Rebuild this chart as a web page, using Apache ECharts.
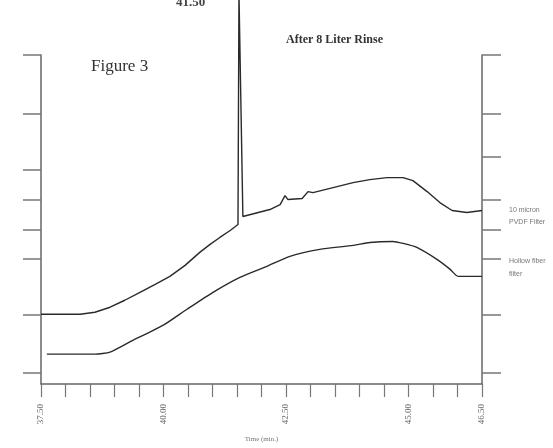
<!DOCTYPE html>
<html>
<head>
<meta charset="utf-8">
<script src="https://cdn.jsdelivr.net/npm/echarts@6/dist/echarts.min.js"></script>
<style>
  html, body { margin: 0; padding: 0; background: #fff; }
  #chart { width: 553px; height: 448px; }
</style>
</head>
<body>
<div id="chart"></div>
<script>
// time (min) and detector signal
var rinseTime = [37.50, 38.30, 38.60, 38.91, 39.21, 39.52, 39.83, 40.13, 40.44, 40.74, 40.95, 41.15, 41.36, 41.52, 41.54, 41.57, 41.62, 42.17, 42.38, 42.48, 42.54, 42.83, 42.95, 43.05, 43.87, 44.21, 44.56, 44.89, 45.09, 45.38, 45.64, 45.89, 46.19, 46.50];
var rinseSignal = [70, 70, 72, 77, 84, 92, 100, 108, 119, 132, 140, 147, 154, 160, 392, 392, 168, 175, 180, 189, 185, 186, 193, 192, 202, 205, 207, 207, 204, 193, 182, 174, 172, 174];

var fiberTime = [37.62, 38.60, 38.91, 39.42, 39.72, 40.03, 40.48, 41.01, 41.56, 42.11, 42.58, 43.19, 43.87, 44.21, 44.68, 44.89, 45.17, 45.58, 45.85, 46.01, 46.50];
var fiberSignal = [30, 30, 32, 45, 52, 60, 75, 92, 107, 118, 128, 135, 139, 142, 143, 141, 137, 125, 115, 108, 108];

var xLabels = [37.5, 40, 42.5, 45, 46.5];
var leftTicks = [11, 69, 126, 155, 185, 215, 271, 330];
var rightTicks = [11, 69, 126, 155, 185, 228, 271, 330];

function pairs(xs, ys) {
    var out = [];
    for (var i = 0; i < xs.length; i++) out.push([xs[i], ys[i]]);
    return out;
}

var axisGray = '#666';
var myChart = echarts.init(document.getElementById('chart'));
var option = {
    backgroundColor: '#fff',
    animation: false,
    grid: { left: 41, right: 71, top: 55, bottom: 63 },
    xAxis: {
        type: 'value',
        min: 37.5, max: 46.5, interval: 0.5,
        name: 'Time (min.)',
        nameLocation: 'middle',
        nameGap: 52,
        nameTextStyle: { fontSize: 7, color: '#777', fontFamily: 'Liberation Serif' },
        axisLine: { lineStyle: { color: axisGray, width: 1.5 } },
        axisTick: { inside: false, length: 13, lineStyle: { color: '#777', width: 1.2 } },
        axisLabel: {
            customValues: xLabels,
            rotate: 90, margin: 20,
            fontSize: 9, color: '#666', fontFamily: 'Liberation Serif',
            formatter: function (v) { return v.toFixed(2); }
        },
        splitLine: { show: false }
    },
    yAxis: [{
        type: 'value', position: 'left',
        min: 0, max: 330,
        axisLine: { show: true, lineStyle: { color: axisGray, width: 1.5 } },
        axisTick: { show: true, length: 18, customValues: leftTicks, lineStyle: { color: '#777', width: 1.5 } },
        axisLabel: { show: false },
        splitLine: { show: false }
    }, {
        type: 'value', position: 'right',
        min: 0, max: 330,
        axisLine: { show: true, lineStyle: { color: axisGray, width: 1.5 } },
        axisTick: { show: true, length: 19, customValues: rightTicks, lineStyle: { color: '#777', width: 1.5 } },
        axisLabel: { show: false },
        splitLine: { show: false }
    }],
    series: [{
        type: 'line',
        data: pairs(rinseTime, rinseSignal),
        clip: false,
        showSymbol: false,
        lineStyle: { color: '#2a2a2a', width: 1.4 }
    }, {
        type: 'line',
        data: pairs(fiberTime, fiberSignal),
        smooth: 0.2,
        showSymbol: false,
        lineStyle: { color: '#2a2a2a', width: 1.4 }
    }],
    graphic: [
        { type: 'text', left: 91, top: 58, style: { text: 'Figure 3', font: '17px "Liberation Serif"', fill: '#333' } },
        { type: 'text', left: 286, top: 34, style: { text: 'After 8 Liter Rinse', font: 'bold 12px "Liberation Serif"', fill: '#333' } },
        { type: 'text', left: 176, top: -4, style: { text: '41.50', font: 'bold 13px "Liberation Serif"', fill: '#444' } },
        { type: 'text', left: 509, top: 207, style: { text: '10 micron', font: '7px "Liberation Sans"', fill: '#777' } },
        { type: 'text', left: 509, top: 219, style: { text: 'PVDF Filter', font: '7px "Liberation Sans"', fill: '#777' } },
        { type: 'text', left: 509, top: 258, style: { text: 'Hollow fiber', font: '7px "Liberation Sans"', fill: '#777' } },
        { type: 'text', left: 509, top: 271, style: { text: 'filter', font: '7px "Liberation Sans"', fill: '#777' } }
    ]
};
myChart.setOption(option);
</script>
</body>
</html>
